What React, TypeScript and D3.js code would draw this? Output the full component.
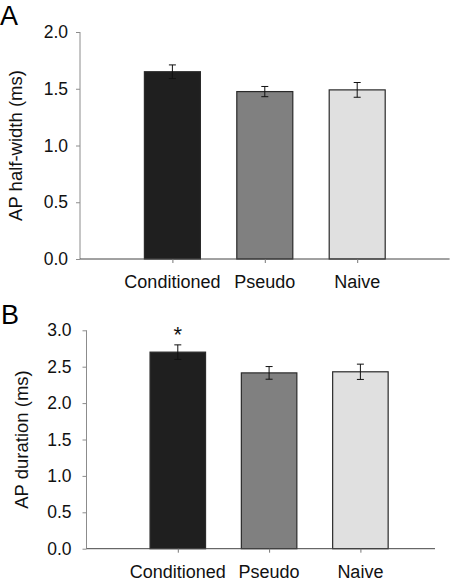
import React, { useEffect, useRef } from "react";
import * as d3 from "d3";

const categories = ["Conditioned", "Pseudo", "Naive"];
const barColors = ["#1f1f1f", "#808080", "#e0e0e0"];

const halfWidthMeans = [1.65, 1.475, 1.49];
const halfWidthErrors = [0.06, 0.045, 0.065];
const halfWidthTicks = [0, 0.5, 1.0, 1.5, 2.0];

const durationMeans = [2.7, 2.415, 2.43];
const durationErrors = [0.1, 0.087, 0.105];
const durationTicks = [0, 0.5, 1.0, 1.5, 2.0, 2.5, 3.0];

const significant = [true, false, false];

const FONT = "'Liberation Sans', Arial, Helvetica, sans-serif";

type PanelCfg = {
  letter: string;
  letterX: number;
  letterY: number;
  yTitle: string;
  titleX: number;
  means: number[];
  errors: number[];
  ticks: number[];
  yMax: number;
  left: number;
  step: number;
  xEnd: number;
  top: number;
  bottom: number;
  barW: number;
  labelY: number;
  tickGap: number;
  stars: boolean;
};

const panels: PanelCfg[] = [
  {
    letter: "A", letterX: 0, letterY: 25, yTitle: "AP half-width (ms)", titleX: 22,
    means: halfWidthMeans, errors: halfWidthErrors, ticks: halfWidthTicks, yMax: 2,
    left: 80, step: 92.4, xEnd: 4, top: 32, bottom: 259, barW: 56, labelY: 288, tickGap: 12, stars: false,
  },
  {
    letter: "B", letterX: 1, letterY: 324, yTitle: "AP duration (ms)", titleX: 28,
    means: durationMeans, errors: durationErrors, ticks: durationTicks, yMax: 3,
    left: 86.5, step: 91.3, xEnd: 3.817, top: 330.3, bottom: 548.7, barW: 55.5, labelY: 578, tickGap: 15, stars: true,
  },
];

export default function App() {
  const ref = useRef<SVGSVGElement | null>(null);

  useEffect(() => {
    const svg = d3.select(ref.current);
    svg.selectAll("*").remove();

    panels.forEach((p) => {
      const g = svg.append("g");
      const x = d3.scaleLinear().domain([0, p.xEnd]).range([p.left, p.left + p.xEnd * p.step]);
      const y = d3.scaleLinear().domain([0, p.yMax]).range([p.bottom, p.top]);

      categories.forEach((c, i) => {
        const cx = x(i + 1);
        g.append("rect")
          .attr("x", cx - p.barW / 2)
          .attr("y", y(p.means[i]))
          .attr("width", p.barW)
          .attr("height", y(0) - y(p.means[i]))
          .attr("fill", barColors[i])
          .attr("stroke", "#2a2a2a")
          .attr("stroke-width", 1.2);
        const hi = y(p.means[i] + p.errors[i]);
        const lo = y(p.means[i] - p.errors[i]);
        g.append("line").attr("x1", cx).attr("x2", cx).attr("y1", hi).attr("y2", lo)
          .attr("stroke", "#111").attr("stroke-width", 1);
        [hi, lo].forEach((yy) => {
          g.append("line").attr("x1", cx - 3.5).attr("x2", cx + 3.5).attr("y1", yy).attr("y2", yy)
            .attr("stroke", "#111").attr("stroke-width", 1);
        });
        if (p.stars && significant[i]) {
          g.append("text").attr("x", cx).attr("y", hi - 3)
            .attr("text-anchor", "middle").attr("font-family", FONT).attr("font-size", 22)
            .attr("fill", "#111").text("*");
        }
      });

      const yAxis = d3.axisLeft(y).tickValues(p.ticks).tickFormat(d3.format(".1f"))
        .tickSize(4).tickPadding(p.tickGap - 4);
      const ya = g.append("g").attr("transform", `translate(${p.left},0)`).call(yAxis);
      ya.select(".domain").attr("stroke", "#8c8c8c").attr("d", `M0,${p.bottom}V${p.top}`);
      ya.selectAll(".tick line").attr("stroke", "#8c8c8c");
      ya.selectAll(".tick text").attr("font-family", FONT).attr("font-size", 17.5).attr("fill", "#111");

      const xAxis = d3.axisBottom(x).tickValues([1, 2, 3]).tickFormat(() => "").tickSize(4);
      const xa = g.append("g").attr("transform", `translate(0,${p.bottom})`).call(xAxis);
      xa.select(".domain").attr("stroke", "#444").attr("d", `M${p.left},0H${x(p.xEnd)}`);
      xa.selectAll(".tick line").attr("stroke", "#777");

      categories.forEach((c, i) => {
        g.append("text").attr("x", x(i + 1)).attr("y", p.labelY)
          .attr("text-anchor", "middle").attr("font-family", FONT).attr("font-size", 18)
          .attr("fill", "#111").text(c);
      });

      g.append("text")
        .attr("transform", `translate(${p.titleX},${(p.top + p.bottom) / 2}) rotate(-90)`)
        .attr("text-anchor", "middle").attr("font-family", FONT).attr("font-size", 18.5)
        .attr("fill", "#111").text(p.yTitle);

      g.append("text").attr("x", p.letterX).attr("y", p.letterY)
        .attr("font-family", FONT).attr("font-size", 27).attr("fill", "#000").text(p.letter);
    });
  }, []);

  return (
    <svg
      ref={ref}
      width={452}
      height={584}
      style={{ position: "absolute", left: 0, top: 0, background: "#fff" }}
    />
  );
}
